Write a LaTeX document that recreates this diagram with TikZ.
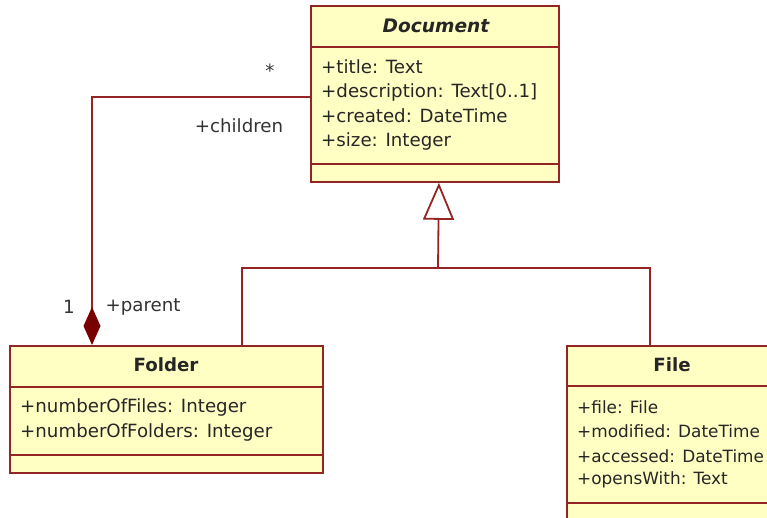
\documentclass[tikz,border=0pt]{standalone}
\usepackage{fontspec}
\setmainfont{DejaVu Sans}
\usetikzlibrary{arrows.meta}
\definecolor{umlred}{HTML}{952424}
\definecolor{umldark}{HTML}{780000}
\definecolor{umlfill}{HTML}{FFFFC4}
\begin{document}
\begin{tikzpicture}[x=1pt,y=-1pt,
  umlbox/.style={draw=umlred, fill=umlfill, line width=1.8pt, inner sep=0pt, anchor=north west},
  umlline/.style={draw=umlred, line width=1.8pt},
  attr/.style={anchor=west, inner sep=0pt, font=\fontsize{18.2}{20}\selectfont, text=black!85},
  fattr/.style={attr, font=\fontsize{16.9}{20}\selectfont},
  title/.style={inner sep=0pt, font=\fontsize{18.2}{20}\selectfont\bfseries, text=black!85},
  lbl/.style={inner sep=0pt, font=\fontsize{18.2}{20}\selectfont, text=black!80}]
\useasboundingbox (0,0) rectangle (767,518);
\clip (0,0) rectangle (767,518);
\fill[white] (0,0) rectangle (767,518);

% Document
\node[umlbox, minimum width=248pt, minimum height=176pt] (doc) at (310,5) {};
\draw[umlline] ([yshift=-42pt]doc.north west) -- ([yshift=-42pt]doc.north east);
\draw[umlline] ([yshift=19pt]doc.south west) -- ([yshift=19pt]doc.south east);
\node[title, font=\fontsize{18.6}{20}\selectfont\bfseries\itshape] (doct) at (436,26) {Document};
\node[attr] (da1) at (321,67) {+title: Text};
\node[attr] (da2) at (321,92) {+description: Text[0..1]};
\node[attr] (da3) at (321,116) {+created: DateTime};
\node[attr] (da4) at (321,141) {+size: Integer};

% Folder
\node[umlbox, minimum width=313pt, minimum height=127pt] (folder) at (9,345) {};
\draw[umlline] ([yshift=-42pt]folder.north west) -- ([yshift=-42pt]folder.north east);
\draw[umlline] ([yshift=19pt]folder.south west) -- ([yshift=19pt]folder.south east);
\node[title] (foldt) at (166,365) {Folder};
\node[attr] (fa1) at (20,407) {+numberOfFiles: Integer};
\node[attr] (fa2) at (20,432) {+numberOfFolders: Integer};

% File
\node[umlbox, minimum width=260pt, minimum height=200pt] (file) at (566,345) {};
\draw[umlline] ([yshift=-41pt]file.north west) -- ([yshift=-41pt]file.north east);
\draw[umlline] (566,503) -- (826,503);
\node[title] (filet) at (672,365) {File};
\node[fattr] (fi1) at (577,407) {+file: File};
\node[fattr] (fi2) at (577,431) {+modified: DateTime};
\node[fattr] (fi3) at (577,456) {+accessed: DateTime};
\node[fattr] (fi4) at (577,480) {+opensWith: Text};

% Generalization
\coordinate (gj) at (438,268);
\draw[umlline] ([xshift=75.5pt]folder.north) |- (gj);
\draw[umlline] ([xshift=84pt]file.north west) |- (gj);
\draw[umlline, -{Triangle[open, length=37pt, width=31pt, fill=white, line width=1.8pt]}] (gj) -- ([xshift=4pt]doc.south);

% Composition
\draw[umlline, -{Diamond[length=38pt, width=17pt, fill=umldark, umldark]}] ([yshift=-3pt]doc.west) -| ([xshift=83pt]folder.north west);
\node[lbl] (lstar) at (270,71) {*};
\node[lbl] (lchild) at (239,126) {+children};
\node[lbl] (lone) at (69,307) {1};
\node[lbl] (lparent) at (143,307) {+parent};
\end{tikzpicture}
\end{document}
